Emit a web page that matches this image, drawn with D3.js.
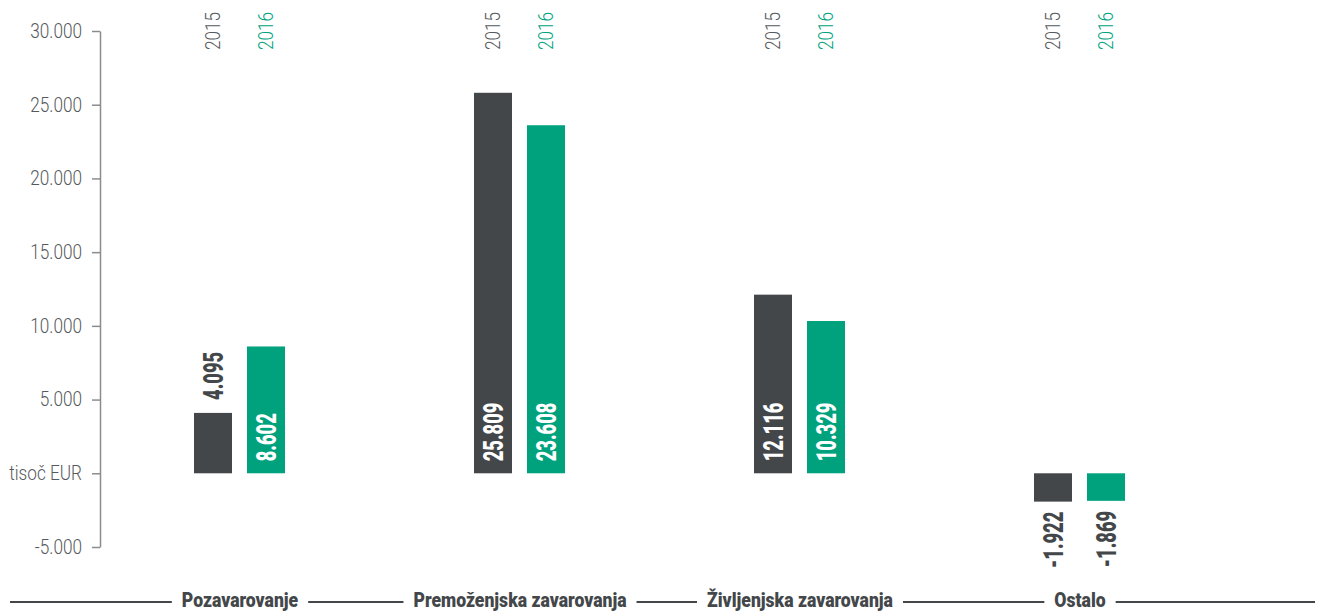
<!DOCTYPE html>
<html><head><meta charset="utf-8">
<script src="https://cdn.jsdelivr.net/npm/d3@7"></script>
<style>
html,body{margin:0;padding:0;background:#fff;}
svg{display:block;}
text{font-family:Roboto,"Noto Sans",sans-serif;}
</style></head>
<body>
<svg id="c" width="1322" height="612"></svg>
<script>
const categories = ["Pozavarovanje","Premoženjska zavarovanja","Življenjska zavarovanja","Ostalo"];
const years = ["2015","2016"];
const values2015 = [4095, 25809, 12116, -1922];
const values2016 = [8602, 23608, 10329, -1869];
const yTicks = [-5000, 0, 5000, 10000, 15000, 20000, 25000, 30000];
const zeroLabel = "tisoč EUR";
const colors = {"2015":"#43474a","2016":"#00a27e"};
const yearTextColors = {"2015":"#55595c","2016":"#00a27e"};
const darkText = "#43474a";

const svg = d3.select("#c");
const y = d3.scaleLinear().domain([-5000, 30000]).range([547, 31]);
const x = d3.scaleBand().domain(categories).range([100, 1220]).paddingInner(0).paddingOuter(0);
const xs = d3.scaleBand().domain(years).range([94, 185]).paddingInner(15/53).paddingOuter(0);

const fmt = d => d === 0 ? zeroLabel : d3.format(",")(d).replace(/,/g, ".").replace(/\u2212/g, "-");

// axis
const ax = svg.append("g").attr("transform","translate(100,0)")
  .call(d3.axisLeft(y).tickValues(yTicks).tickFormat(fmt).tickSize(8).tickSizeOuter(0).tickPadding(10));
ax.select(".domain").attr("stroke","#8a8d8f").attr("stroke-width",1.5);
ax.selectAll(".tick line").attr("stroke","#8a8d8f").attr("stroke-width",1.5);
ax.selectAll(".tick text")
  .attr("fill","#55595c").attr("font-size",20).attr("font-weight",300)
  .style("font-family","Roboto, sans-serif")
  .each(function(){
    const t = d3.select(this);
    const xx = +t.attr("x");
    t.attr("x", null).attr("transform", `translate(${xx},0) scale(0.86,1)`);
  });

// data rows
const rows = [];
categories.forEach((c,i) => {
  rows.push({cat:c, year:"2015", v:values2015[i]});
  rows.push({cat:c, year:"2016", v:values2016[i]});
});

const bars = svg.append("g");
bars.selectAll("rect").data(rows).join("rect")
  .attr("x", d => x(d.cat) + xs(d.year))
  .attr("width", xs.bandwidth())
  .attr("y", d => y(Math.max(0, d.v)))
  .attr("height", d => Math.abs(y(d.v) - y(0)))
  .attr("fill", d => colors[d.year]);

// year labels at top
const yl = svg.append("g");
categories.forEach(c => {
  years.forEach(yr => {
    const cx = x(c) + xs(yr) + xs.bandwidth()/2;
    yl.append("text")
      .attr("transform", `translate(${cx},12) rotate(-90) scale(0.88,1)`)
      .attr("text-anchor","end")
      .attr("dy","0.35em")
      .attr("font-size",19.5).attr("font-weight",300)
      .attr("fill", yearTextColors[yr])
      .text(yr);
  });
});

// value labels
const vl = svg.append("g");
rows.forEach(d => {
  const cx = x(d.cat) + xs(d.year) + xs.bandwidth()/2;
  const h = Math.abs(y(d.v) - y(0));
  let ty, anchor, fill;
  if (d.v >= 0) {
    if (h > 80) { ty = y(0) - 12; anchor = "start"; fill = "#ffffff"; }
    else { ty = y(d.v) - 13; anchor = "start"; fill = darkText; }
  } else {
    ty = y(d.v) + 10; anchor = "end"; fill = darkText;
  }
  vl.append("text")
    .attr("transform", `translate(${cx},${ty}) rotate(-90) scale(0.68,1)`)
    .attr("text-anchor", anchor)
    .attr("dy","0.36em")
    .attr("font-size",27).attr("font-weight",900)
    .attr("fill", fill)
    .text(fmt(d.v));
});

// bottom category labels with lines
const bl = svg.append("g");
const lineY = 602;
const gap = 10;
const spans = [];
const bScale = 0.88;
categories.forEach(c => {
  const cx = x(c) + x.bandwidth()/2;
  const t = bl.append("text")
    .attr("transform", `translate(${cx},607) scale(${bScale},1)`)
    .attr("text-anchor","middle")
    .attr("font-size",20).attr("font-weight",900)
    .attr("fill", darkText)
    .text(c);
  const w = t.node().getComputedTextLength() * bScale;
  spans.push([cx - w/2, cx + w/2]);
});
let start = 10;
spans.forEach(s => {
  bl.append("line").attr("x1", start).attr("x2", s[0] - gap)
    .attr("y1", lineY).attr("y2", lineY).attr("stroke", darkText).attr("stroke-width",2);
  start = s[1] + gap;
});
bl.append("line").attr("x1", start).attr("x2", 1315)
  .attr("y1", lineY).attr("y2", lineY).attr("stroke", darkText).attr("stroke-width",2);
</script>
</body></html>
